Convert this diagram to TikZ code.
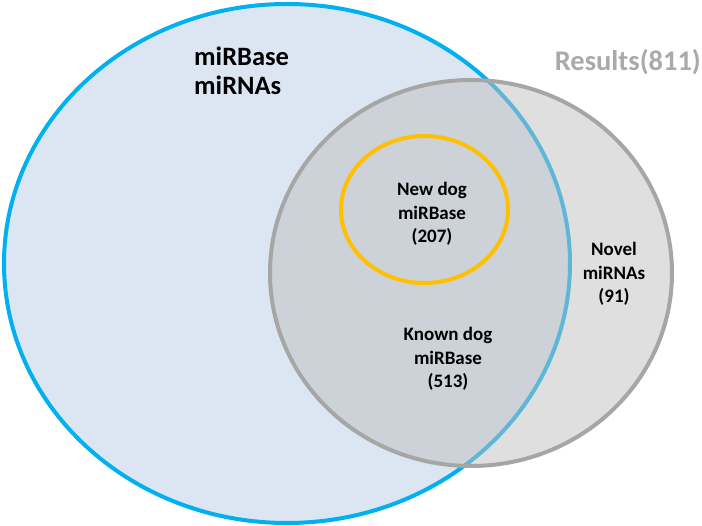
\documentclass[tikz,border=0pt]{standalone}
\usepackage{fontspec}
\setmainfont{Carlito}
\definecolor{bluefill}{RGB}{220,230,242}
\definecolor{bluestroke}{RGB}{0,176,240}
\definecolor{grayfill}{RGB}{191,191,191}
\definecolor{graystroke}{RGB}{166,166,166}
\definecolor{orangestroke}{RGB}{255,192,0}
\definecolor{titlegray}{RGB}{170,170,170}
\tikzset{
  setring/.style={line width=4pt},
  biglabel/.style={font=\bfseries\fontsize{26.5}{29}\selectfont, align=left, inner sep=0pt},
  smalllabel/.style={font=\bfseries\fontsize{19}{23.5}\selectfont, align=center, inner sep=0pt, text=black}
}
\begin{document}
\begin{tikzpicture}[x=1pt,y=-1pt]
\useasboundingbox (0,0) rectangle (702,526);
% miRBase set
\fill[bluefill] (287,263.5) ellipse [x radius=283, y radius=259.5];
\draw[setring, bluestroke] (287,263.5) ellipse [x radius=283, y radius=259.5];
% Results set
\fill[grayfill, fill opacity=0.5] (471,273) ellipse [x radius=201, y radius=193];
\draw[setring, graystroke] (471,273) ellipse [x radius=201, y radius=193];
% New dog miRBase set
\draw[setring, orangestroke] (424.5,209.5) ellipse [x radius=83.5, y radius=73.5];
% labels
\node[biglabel, anchor=north west] (mirbase) at (194,47) {miRBase\\miRNAs};
\node[biglabel, font=\bfseries\fontsize{28.5}{30}\selectfont, text=titlegray, anchor=east] (results) at (701,62) {Results(811)};
\node[smalllabel] (newdog) at (432,214) {New dog\\miRBase\\(207)};
\node[smalllabel] (novel) at (614,274) {Novel\\miRNAs\\(91)};
\node[smalllabel] (known) at (448,359) {Known dog\\miRBase\\(513)};
\end{tikzpicture}
\end{document}
